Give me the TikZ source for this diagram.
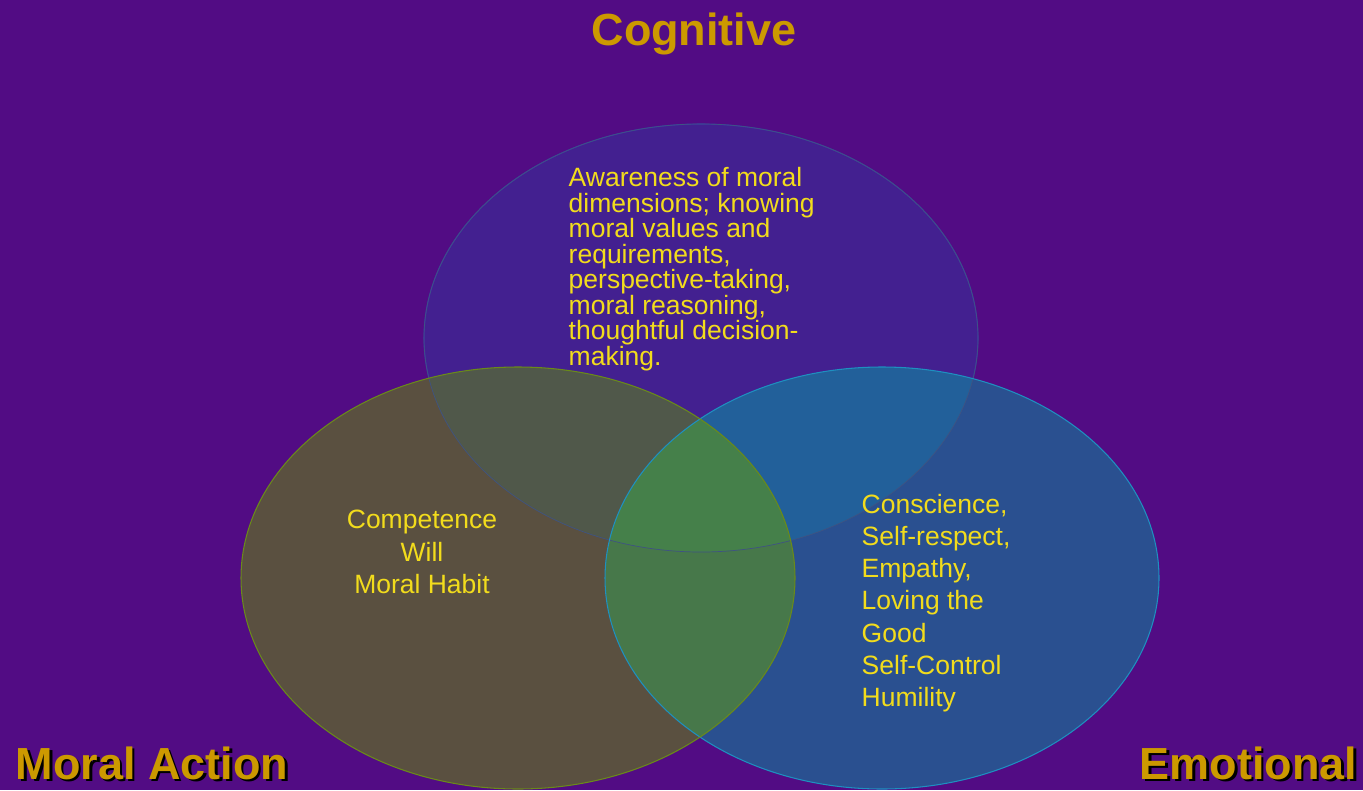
\documentclass[tikz,border=0pt]{standalone}
\usepackage{fontspec}
\setmainfont{Liberation Sans}
\usepackage{tikz}

\definecolor{bgpurple}{HTML}{520C84}
\definecolor{cogfill}{HTML}{432090}
\definecolor{actfill}{HTML}{5A5040}
\definecolor{emofill}{HTML}{2A5090}
\definecolor{cogact}{HTML}{50584A}
\definecolor{actemo}{HTML}{47784A}
\definecolor{cogemo}{HTML}{22609A}
\definecolor{allthree}{HTML}{45804A}
\definecolor{cogline}{HTML}{3C35A8}
\definecolor{actline}{HTML}{6A8A1A}
\definecolor{emoline}{HTML}{1E90C0}
\definecolor{titlegold}{HTML}{CC9900}
\definecolor{textyellow}{HTML}{F2DC1C}

\tikzset{
  titletext/.style={text=titlegold, inner sep=0pt, font=\fontsize{12.8}{15}\selectfont\bfseries},
  titleshadow/.style={text=black, inner sep=0pt, font=\fontsize{12.8}{15}\selectfont\bfseries},
  bodytext/.style={text=textyellow, inner sep=0pt, font=\fontsize{7.54}{9.16}\selectfont},
}

\begin{document}
\begin{tikzpicture}
        \useasboundingbox (0,0) rectangle (13.63,7.90);
        \fill [bgpurple] (0,0) rectangle (13.63,7.90);                    %background

        \def\cogpath{(7.01,4.52) ellipse [x radius=2.77, y radius=2.14]}
        \def\actpath{(5.18,2.12) ellipse [x radius=2.77, y radius=2.11]}
        \def\emopath{(8.82,2.12) ellipse [x radius=2.77, y radius=2.11]}

        \fill [cogfill] \cogpath;                                         %Cognitive
        \draw [cogline, line width=0.3pt] \cogpath;                       %
        \fill [actfill] \actpath;                                         %Moral Action
        \fill [emofill] \emopath;                                         %Emotional
        \begin{scope}
          \clip \cogpath;
          \fill [cogact] \actpath;                                        %Cog+Act
          \fill [cogemo] \emopath;                                        %Cog+Emo
        \end{scope}
        \begin{scope}
          \clip \actpath;
          \fill [actemo] \emopath;                                        %Act+Emo
          \clip \emopath;
          \fill [allthree] \cogpath;                                      %all three
        \end{scope}
        \draw [cogline!60!allthree, line width=0.2pt] \cogpath;          %faint edge
        \draw [emoline, line width=0.3pt] \emopath;                       %
        \draw [actline, line width=0.3pt] \actpath;                       %

        \node [bodytext, anchor=north west, align=left,
               font=\fontsize{7.54}{7.25}\selectfont] (cogtext) at (5.68,6.23)
              {Awareness of moral\\dimensions; knowing\\moral values and\\requirements,\\perspective-taking,\\moral reasoning,\\thoughtful decision-\\making.};
        \node [bodytext, align=center] (acttext) at (4.22,2.38)
              {Competence\\Will\\Moral Habit};
        \node [bodytext, anchor=west, align=left] (emotext) at (8.61,1.87)
              {Conscience,\\Self-respect,\\Empathy,\\Loving the\\Good\\Self-Control\\Humility};

        \node [titletext, anchor=base] (cogtitle) at (6.94,7.45) {Cognitive};
        \node [titleshadow, anchor=west] at (0.175,0.245) {Moral Action}; %shadow
        \node [titletext, anchor=west] (acttitle) at (0.15,0.27) {Moral Action};
        \node [titleshadow, anchor=east] at (13.605,0.245) {Emotional};  %shadow
        \node [titletext, anchor=east] (emotitle) at (13.58,0.27) {Emotional};
\end{tikzpicture}
\end{document}
